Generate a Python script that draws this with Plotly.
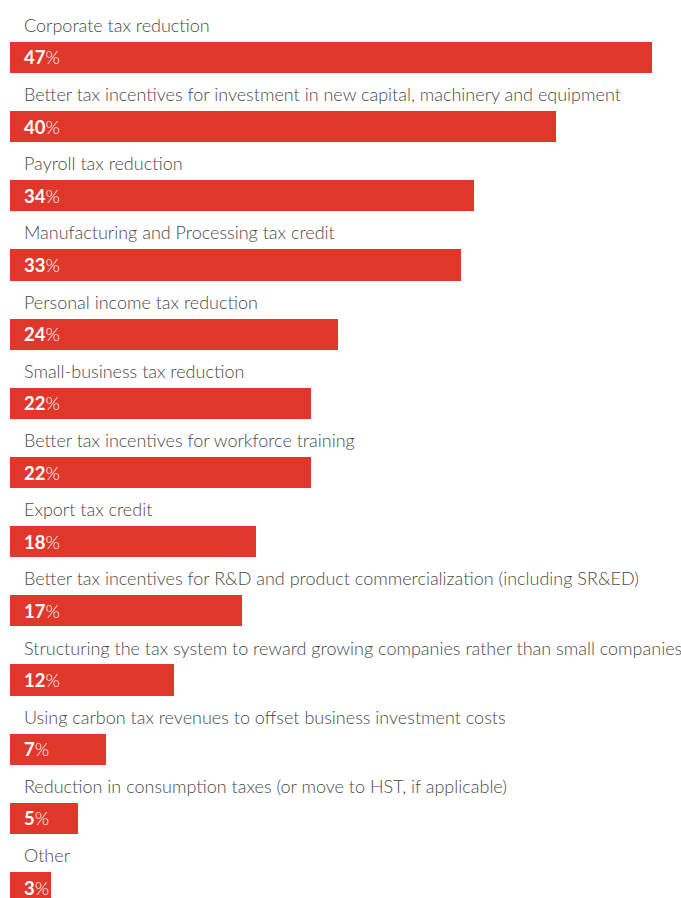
import plotly.graph_objects as go

categories = [
    "Corporate tax reduction",
    "Better tax incentives for investment in new capital, machinery and equipment",
    "Payroll tax reduction",
    "Manufacturing and Processing tax credit",
    "Personal income tax reduction",
    "Small-business tax reduction",
    "Better tax incentives for workforce training",
    "Export tax credit",
    "Better tax incentives for R&D and product commercialization (including SR&ED)",
    "Structuring the tax system to reward growing companies rather than small companies",
    "Using carbon tax revenues to offset business investment costs",
    "Reduction in consumption taxes (or move to HST, if applicable)",
    "Other",
]
values = [47, 40, 34, 33, 24, 22, 22, 18, 17, 12, 7, 5, 3]

BAR_COLOR = "#E0372A"
TEXT_COLOR = "#4a4a4a"
FONT = "Lato"

rows = list(range(len(categories)))

fig = go.Figure(
    go.Bar(
        x=values,
        y=rows,
        orientation="h",
        width=0.45,
        marker=dict(color=BAR_COLOR, line=dict(width=0)),
        hoverinfo="skip",
    )
)

annotations = []
for i, (cat, val) in enumerate(zip(categories, values)):
    # category caption above the bar
    annotations.append(dict(
        x=0.88, y=i - 0.47, xref="x", yref="y",
        text=cat, showarrow=False, xanchor="left", yanchor="middle",
        font=dict(family=FONT, size=18, color=TEXT_COLOR, weight=300),
    ))
    # value inside the bar
    annotations.append(dict(
        x=0.88, y=i, xref="x", yref="y",
        text=f"<b>{val}</b>%", showarrow=False, xanchor="left", yanchor="middle",
        font=dict(family=FONT, size=18.5, color="white", weight=300),
    ))

fig.update_layout(
    width=681, height=898,
    margin=dict(l=0, r=0, t=0, b=0),
    paper_bgcolor="white", plot_bgcolor="white",
    showlegend=False,
    bargap=0,
    xaxis=dict(range=[-0.732, 49.12], visible=False, fixedrange=True),
    yaxis=dict(range=[12.151, -0.831], visible=False, fixedrange=True),
    annotations=annotations,
)

fig.write_html("out.html")
